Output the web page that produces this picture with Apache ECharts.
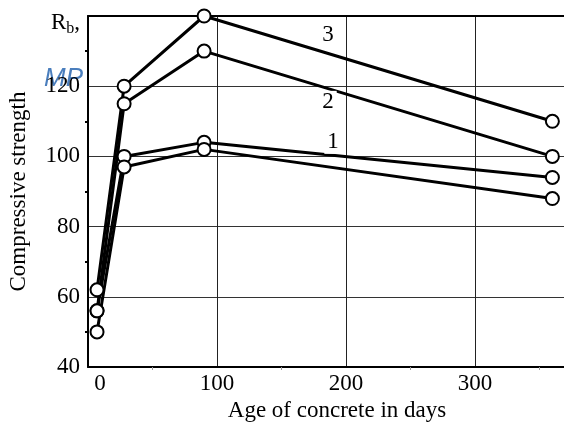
<!DOCTYPE html>
<html>
<head>
<meta charset="utf-8">
<script src="https://cdn.jsdelivr.net/npm/echarts@6/dist/echarts.min.js"></script>
<style>
  html, body { margin: 0; padding: 0; background: #fff; }
  #chart { width: 564px; height: 424px; }
</style>
</head>
<body>
<div id="chart"></div>
<script>
// age of concrete, days
const days = [7, 28, 90, 360];
// compressive strength for each curve
const curve3 = [62, 120, 140, 110];
const curve2 = [56, 115, 130, 100];
const curve1a = [56, 100, 104, 94];
const curve1b = [50, 97, 102, 88];
// curve numbers and where they are written (data units)
const curveNames = ['3', '2', '1'];
const curveNameAt = [[186, 134.5], [186, 115.4], [190, 104]];

const FONT = 'Liberation Serif';
const chart = echarts.init(document.getElementById('chart'));

const pairs = (ys) => days.map((d, i) => [d, ys[i]]);
const lineSeries = (ys) => ({
  type: 'line',
  data: pairs(ys),
  symbol: 'emptyCircle',
  symbolSize: 13,
  color: '#000',
  lineStyle: { color: '#000', width: 3 },
  itemStyle: { color: '#000', borderWidth: 1.5 },
  z: 3,
  animation: false,
});

chart.setOption({
  backgroundColor: '#fff',
  textStyle: { fontFamily: FONT },
  grid: { left: 88, right: 0, top: 16, bottom: 57, containLabel: false, outerBoundsMode: 'none' },
  xAxis: [{
    type: 'value',
    min: 0,
    max: 369,
    interval: 100,
    name: 'Age of concrete in days',
    nameLocation: 'middle',
    nameGap: 27,
    nameTextStyle: { fontFamily: FONT, fontSize: 23, color: '#000', padding: [0, 0, 0, 22] },
    axisLine: { lineStyle: { color: '#000', width: 2 } },
    axisTick: { show: false },
    minorTick: { show: true, splitNumber: 2, length: 3, lineStyle: { color: '#999' } },
    axisLabel: {
      fontFamily: FONT, fontSize: 23, color: '#000', margin: 5,
      formatter: (v) => (v === 0 ? '{z|0}' : (v % 100 === 0 ? String(v) : '')),
      rich: { z: { fontFamily: FONT, fontSize: 23, color: '#000', padding: [0, 0, 0, 24] } },
    },
    splitLine: { show: true, lineStyle: { color: '#222', width: 1 } },
  }, {
    type: 'value',
    position: 'top',
    min: 0,
    max: 369,
    axisLine: { lineStyle: { color: '#000', width: 2 } },
    axisTick: { show: false },
    axisLabel: { show: false },
    splitLine: { show: false },
  }],
  yAxis: {
    type: 'value',
    min: 40,
    max: 140,
    interval: 20,
    name: 'Compressive strength',
    nameLocation: 'middle',
    nameGap: 58,
    nameTextStyle: { fontFamily: FONT, fontSize: 23, color: '#000' },
    axisLine: { show: true, lineStyle: { color: '#000', width: 2 } },
    axisTick: { show: false },
    minorTick: { show: true, splitNumber: 2, length: 3, lineStyle: { color: '#000', width: 2 } },
    axisLabel: {
      fontFamily: FONT, fontSize: 23, color: '#000', margin: 8,
      formatter: (v) => (v === 140 ? '{r|R}{s|b}{r|,}' : String(v)),
      rich: {
        r: { fontFamily: FONT, fontSize: 23, color: '#000', verticalAlign: 'bottom', padding: [14, 0, 0, 0] },
        s: { fontFamily: FONT, fontSize: 16, color: '#000', verticalAlign: 'bottom', padding: [14, 0, -2, 0] },
      },
    },
    splitLine: { show: true, lineStyle: { color: '#333', width: 1 } },
  },
  graphic: [{
    type: 'text',
    left: 44,
    top: 66,
    style: { text: 'MP', font: 'italic 26px "Liberation Sans"', fill: '#4a7ebd' },
    z: 0,
  }],
  series: [
    lineSeries(curve3),
    lineSeries(curve2),
    lineSeries(curve1a),
    lineSeries(curve1b),
    {
      type: 'scatter',
      data: curveNameAt.map((p, i) => ({ value: p, name: curveNames[i] })),
      symbolSize: 1,
      itemStyle: { color: 'rgba(0,0,0,0)', opacity: 1 },
      label: {
        show: true,
        position: 'inside',
        formatter: (p) => p.name,
        fontFamily: FONT,
        fontSize: 23,
        color: '#000',
        opacity: 1,
        backgroundColor: '#fff',
        padding: [0, 3],
      },
      z: 4,
      animation: false,
    },
  ],
});
</script>
</body>
</html>
